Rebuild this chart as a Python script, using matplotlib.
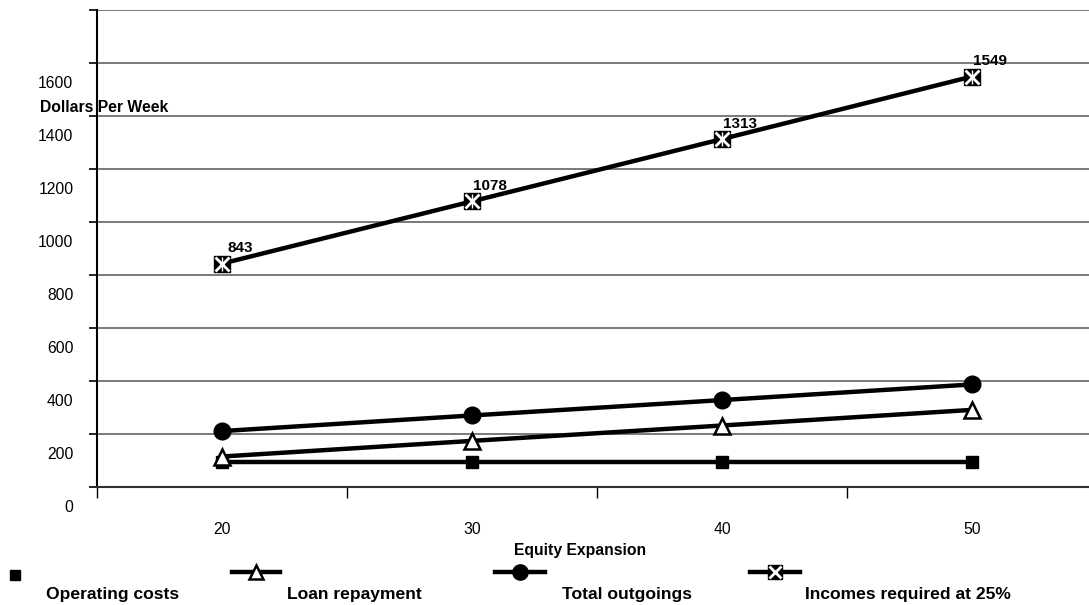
import matplotlib
matplotlib.use("Agg")
import matplotlib.pyplot as plt
import matplotlib.transforms as mtransforms
from matplotlib.lines import Line2D

plt.rcParams['font.family'] = ['Liberation Sans', 'DejaVu Sans']

expansion = ['20', '30', '40', '50']
operating = [96, 96, 96, 96]
loan = [115, 174, 232, 291]
outgoings = [211, 270, 328, 387]
incomes = [843, 1078, 1313, 1549]
yticks = [0, 200, 400, 600, 800, 1000, 1200, 1400, 1600, 1800]
ylabels = ['0', '200', '400', '600', '800', '1000', '1200', '1400', '1600', '']

fig = plt.figure(figsize=(10.89, 6.05), dpi=100)
ax = fig.add_axes([97 / 1089, 118 / 605, 992 / 1089, 477 / 605])

xs = [i + 0.5 for i in range(len(expansion))]
lw = 3.2

ax.plot(xs, operating, color='black', lw=lw, marker='s', ms=9, mfc='black', mec='black', zorder=3)
ax.plot(xs, loan, color='black', lw=lw, marker='^', ms=11, mfc='white', mec='black', mew=1.8, zorder=3)
ax.plot(xs, outgoings, color='black', lw=lw, marker='o', ms=12, mfc='black', mec='black', zorder=3)
ax.plot(xs, incomes, color='black', lw=lw, marker='s', ms=12, mfc='black', mec='black', zorder=3)
ax.plot(xs, incomes, ls='none', marker='x', ms=10, mec='white', mew=2, zorder=4)
ax.plot(xs, incomes, ls='none', marker='|', ms=10, mec='white', mew=1, zorder=4)

for x, v in zip(xs, incomes):
    ax.annotate(str(v), (x, v), xytext=(13, 6), textcoords='offset points',
                ha='center', va='bottom', fontsize=11, fontweight='bold')

ax.set_xlim(0, 992 / 250)
ax.set_ylim(0, 1800)
ax.set_yticks(yticks)
ax.set_yticklabels(ylabels, fontsize=11.3)
ax.yaxis.grid(True, color='#707070', lw=1.3)
ax.set_axisbelow(True)
ax.tick_params(axis='y', direction='out', length=6, width=1.2, pad=11)
off = mtransforms.ScaledTranslation(0, -19 / 100, fig.dpi_scale_trans)
for lab in ax.get_yticklabels():
    lab.set_transform(lab.get_transform() + off)

ax.set_xticks([0, 1, 2, 3])
ax.set_xticks(xs, minor=True)
ax.set_xticklabels([])
ax.set_xticklabels(expansion, minor=True, fontsize=11.3)
ax.tick_params(axis='x', which='major', direction='out', length=8, width=1)
ax.tick_params(axis='x', which='minor', length=0, pad=25)

for s in ['top', 'right']:
    ax.spines[s].set_visible(False)
ax.spines['left'].set_linewidth(1.5)
ax.spines['bottom'].set_linewidth(1.5)
ax.spines['bottom'].set_color('#303030')

fig.text(40 / 1089, 1 - 108 / 605, 'Dollars Per Week', fontsize=11.3, fontweight='bold',
         ha='left', va='center')
fig.text(580 / 1089, 1 - 550 / 605, 'Equity Expansion', fontsize=11.3, fontweight='bold',
         ha='center', va='center')

# legend drawn by hand along the bottom edge
leg_y = 1 - 572 / 605
txt_y = 1 - 594 / 605
fig.add_artist(Line2D([15 / 1089], [1 - 575 / 605], marker='s', ms=7, color='black',
                      transform=fig.transFigure))
fig.text(46 / 1089, txt_y, 'Operating costs', fontsize=12.6, fontweight='bold', va='center')
keys = [
    (232, 280, 287, 'Loan repayment', dict(marker='^', ms=10, mfc='white', mec='black', mew=1.8)),
    (495, 545, 562, 'Total outgoings', dict(marker='o', ms=11, mfc='black', mec='black')),
    (750, 800, 805, 'Incomes required at 25%', dict(marker='s', ms=10, mfc='black', mec='black')),
]
for x0, x1, tx, name, mk in keys:
    fig.add_artist(Line2D([x0 / 1089, x1 / 1089], [leg_y, leg_y], color='black', lw=lw,
                          transform=fig.transFigure))
    fig.add_artist(Line2D([(x0 + x1) / 2 / 1089], [leg_y], ls='none', transform=fig.transFigure, **mk))
    fig.text(tx / 1089, txt_y, name, fontsize=12.6, fontweight='bold', va='center')
fig.add_artist(Line2D([775 / 1089], [leg_y], ls='none', marker='x', ms=8, mec='white', mew=2,
                      transform=fig.transFigure))

fig.savefig('out.png', dpi=100)
